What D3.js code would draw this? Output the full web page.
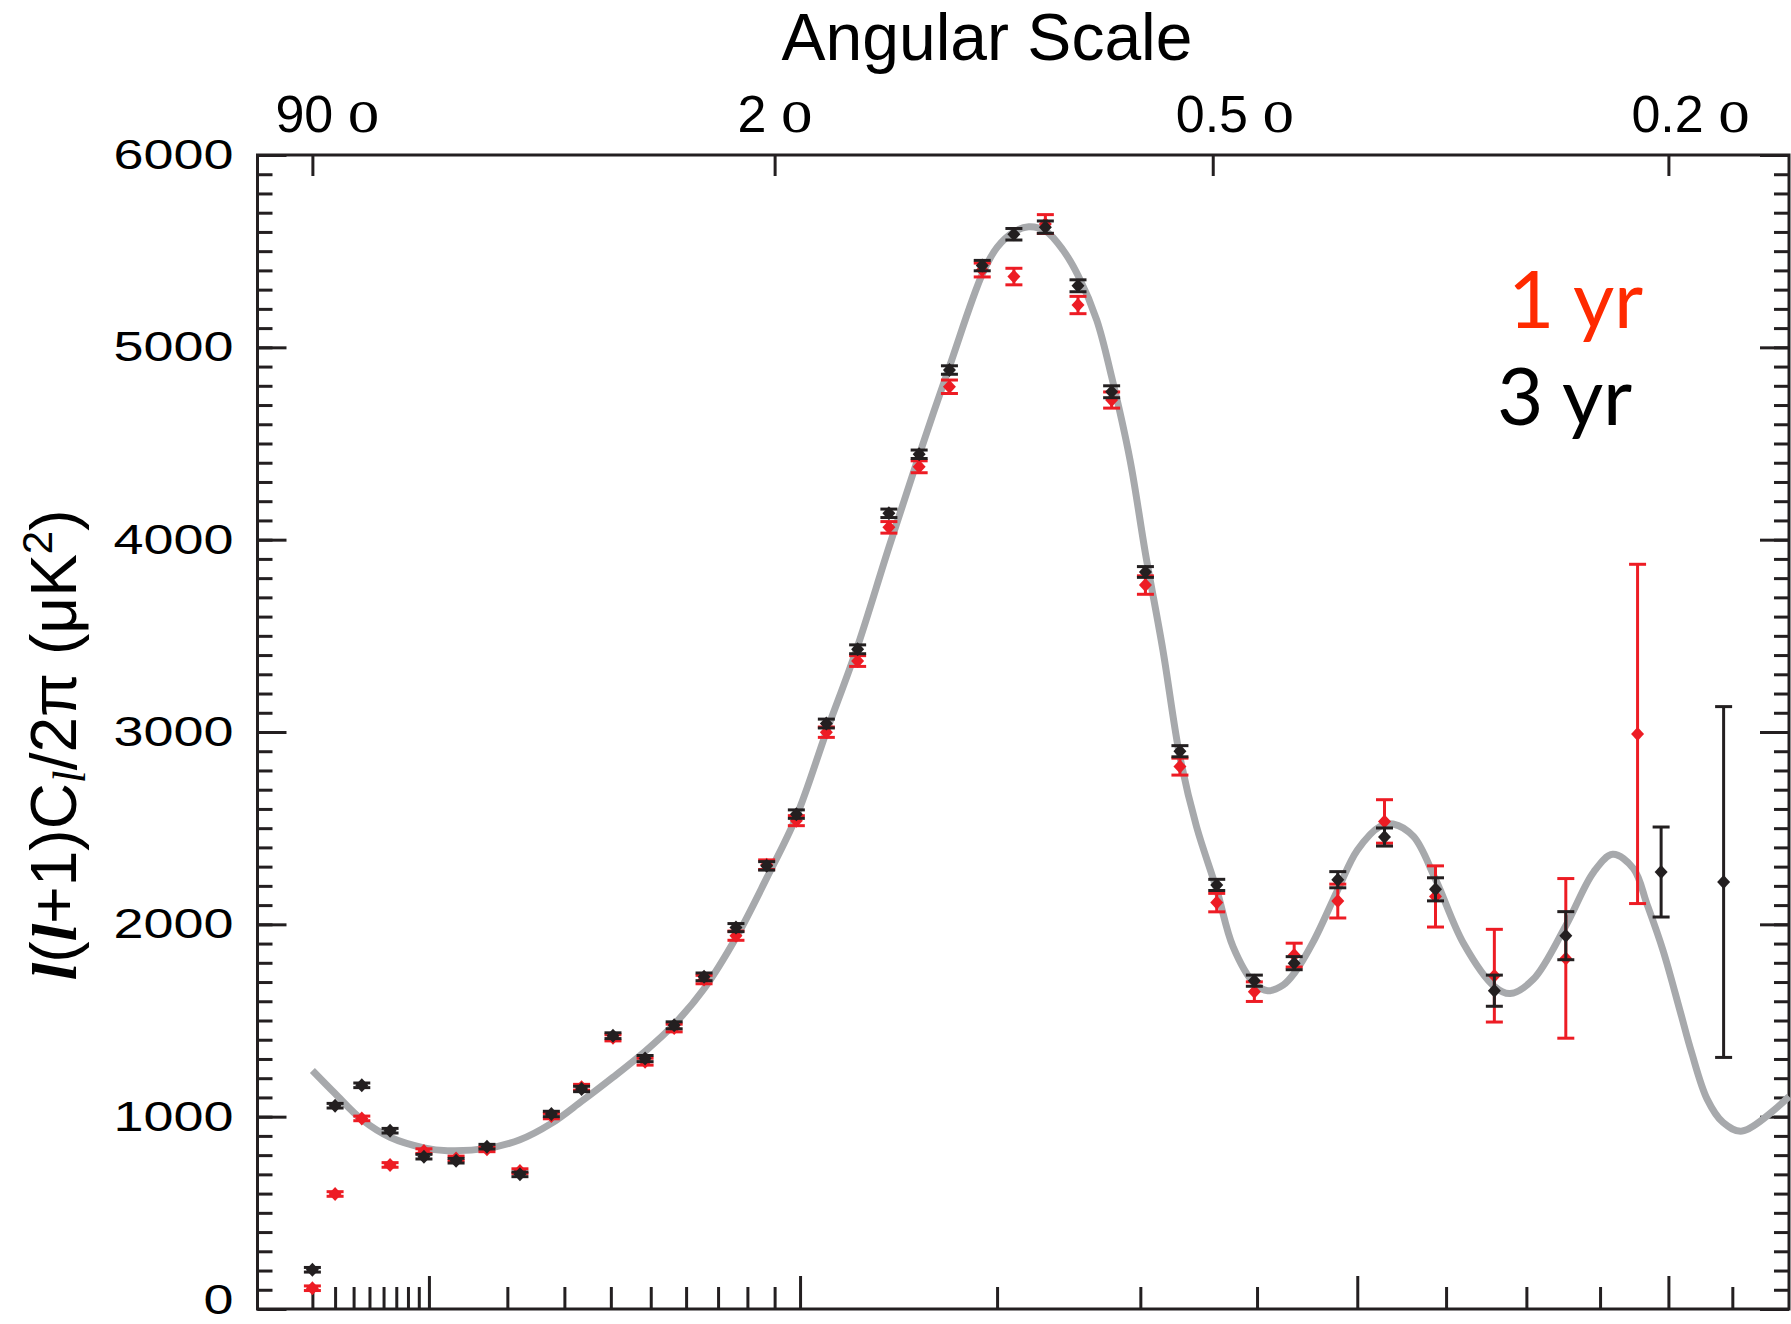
<!DOCTYPE html>
<html>
<head>
<meta charset="utf-8">
<script src="https://cdn.jsdelivr.net/npm/d3@7/dist/d3.min.js"></script>
<style>
  html, body { margin: 0; padding: 0; background: #fff; }
  svg { display: block; }
</style>
</head>
<body>
<svg id="chart" width="1791" height="1324"></svg>
<script>
// ---- WMAP TT power spectrum: binned 1-year and 3-year data with the LCDM model ----

// 3-year bins: multipole, l(l+1)Cl/2pi [uK^2], 1-sigma error
const yr3L   = [2, 3, 4.5, 6.5, 9.5, 13, 17, 22, 27.5, 33.5, 40.5, 48.5, 56.5, 65.5, 76, 87, 98.5, 111, 125, 140, 155.5, 172, 191, 210.5, 231, 253.5, 278, 304, 332, 363.5, 397.5, 435.5, 479.5, 529.5, 587.5, 659, 752.5, 889, 986];
const yr3Val = [204, 1057, 1163, 927, 792, 771, 844, 700, 1014, 1144, 1421, 1302, 1475, 1727, 1983, 2304, 2573, 3044, 3430, 4137, 4444, 4882, 5425, 5588, 5625, 5320, 4769, 3832, 2900, 2205, 1707, 1798, 2232, 2454, 2182, 1655, 1941, 2272, 2220];
const yr3Err = [12, 12, 12, 12, 12, 12, 12, 12, 14, 14, 15, 16, 18, 20, 21, 22, 22, 23, 23, 22, 22, 22, 27, 30, 32, 31, 31, 28, 29, 29, 29, 34, 42, 47, 60, 81, 125, 234, 912];

// 1-year bins
const yr1L   = [2, 3, 4.5, 6.5, 9.5, 13, 17, 22, 27.5, 33.5, 40.5, 48.5, 56.5, 65.5, 76, 87, 98.5, 111, 125, 140, 155.5, 172, 191, 210.5, 231, 253.5, 278, 304, 332, 363.5, 397.5, 435.5, 479.5, 529.5, 587.5, 659, 752.5, 854];
const yr1Val = [108, 598, 991, 749, 821, 783, 830, 717, 1003, 1153, 1410, 1286, 1461, 1713, 1941, 2310, 2539, 2999, 3369, 4064, 4379, 4795, 5402, 5368, 5641, 5220, 4726, 3764, 2820, 2113, 1650, 1840, 2121, 2535, 2145, 1733, 1823, 2990];
const yr1Err = [12, 12, 12, 12, 12, 12, 12, 12, 14, 15, 16, 18, 20, 22, 24, 25, 26, 27, 28, 30, 31, 35, 36, 43, 49, 45, 42, 48, 44, 48, 51, 62, 88, 113, 159, 241, 415, 882];

// best-fit model curve
const modelL   = [2, 3, 4.5, 6.5, 9.5, 12, 17, 22, 27.5, 33.5, 40.5, 48.5, 56.5, 65.5, 76, 87, 98.5, 111, 124.5, 140, 155.5, 172, 191, 200, 210.5, 220, 231, 243, 254, 267, 278, 292, 304, 318, 332, 346, 363.5, 378, 397.5, 410, 425, 435.5, 454.5, 479.5, 500, 525, 539, 562, 587.5, 621, 659, 679, 709, 752.5, 791, 818, 848, 868, 892, 918, 935, 960, 985, 1016, 1094];
const modelVal = [1240, 1120, 985, 893, 838, 823, 835, 880, 965, 1080, 1205, 1340, 1480, 1665, 1930, 2240, 2560, 3000, 3430, 3960, 4440, 4900, 5380, 5520, 5600, 5627, 5606, 5506, 5367, 5142, 4847, 4414, 3929, 3426, 2870, 2508, 2180, 1884, 1693, 1655, 1685, 1745, 1910, 2180, 2385, 2510, 2522, 2457, 2234, 1900, 1677, 1640, 1714, 1993, 2272, 2364, 2290, 2104, 1863, 1547, 1340, 1090, 970, 925, 1105];

// axis tick values
const yMajorTicks = d3.range(0, 6001, 1000);
const yMinorTicks = d3.range(0, 6001, 100);
const lTicks = [2, 3, 4, 5, 6, 7, 8, 9, 10, 20, 30, 40, 50, 60, 70, 80, 90, 100, 200, 300, 400, 500, 600, 700, 800, 900, 1000];
const lLongTicks = [10, 100, 500, 900];
const angleDeg = [90, 2, 0.5, 0.2];
const angleText = ["90", "2", "0.5", "0.2"];

const ink = "#231f20";
const red = "#ed1c24";

const svg = d3.select("#chart");
svg.append("rect").attr("width", 1791).attr("height", 1324).attr("fill", "#fff");

const plot = { left: 257.5, right: 1789, top: 155, bottom: 1309 };

const x = d3.scalePow().exponent(0.4).domain([0.5, 1094]).range([plot.left, plot.right]);
const y = d3.scaleLinear().domain([0, 6000]).range([plot.bottom, plot.top]);

// ---- axes ----
function styleAxis(g) {
  g.select(".domain").remove();
  g.selectAll(".tick line").attr("stroke", ink).attr("stroke-width", 3);
}

svg.append("g").attr("transform", `translate(${plot.left},0)`)
  .call(d3.axisLeft(y).tickValues(yMinorTicks).tickSize(-15).tickFormat(""))
  .call(styleAxis);
svg.append("g").attr("transform", `translate(${plot.right},0)`)
  .call(d3.axisRight(y).tickValues(yMinorTicks).tickSize(-15).tickFormat(""))
  .call(styleAxis);
svg.append("g").attr("transform", `translate(${plot.right},0)`)
  .call(d3.axisRight(y).tickValues(yMajorTicks).tickSize(-29).tickFormat(""))
  .call(styleAxis);

const yLeft = svg.append("g").attr("transform", `translate(${plot.left},0)`)
  .call(d3.axisLeft(y).tickValues(yMajorTicks).tickSize(-29).tickPadding(24).tickFormat(d3.format("d")))
  .call(styleAxis);
yLeft.selectAll(".tick text")
  .attr("fill", "#000")
  .attr("dy", d => d === 0 ? "0.1em" : "0.32em")
  .style("font-family", "'Liberation Sans', Arial, sans-serif")
  .style("font-size", "42.5px")
  .attr("textLength", d => String(d).length * 30)
  .attr("lengthAdjust", "spacingAndGlyphs");

svg.append("g").attr("transform", `translate(0,${plot.bottom})`)
  .call(d3.axisBottom(x).tickValues(lTicks.filter(t => !lLongTicks.includes(t))).tickSize(-22).tickFormat(""))
  .call(styleAxis);
svg.append("g").attr("transform", `translate(0,${plot.bottom})`)
  .call(d3.axisBottom(x).tickValues(lLongTicks).tickSize(-33).tickFormat(""))
  .call(styleAxis);

// top axis: angular scale theta = 180/l degrees
svg.append("g").attr("transform", `translate(0,${plot.top})`)
  .call(d3.axisTop(x).tickValues(angleDeg.map(a => 180 / a)).tickSize(-21).tickFormat(""))
  .call(styleAxis);

const angleLabels = svg.append("g");
angleDeg.forEach((a, i) => {
  const t = angleLabels.append("text")
    .attr("x", x(180 / a) - 37)
    .attr("y", 131.5)
    .attr("fill", "#000")
    .style("font-family", "'Liberation Sans', Arial, sans-serif")
    .style("font-size", "52px");
  t.append("tspan").text(angleText[i] + " ");
  t.append("tspan").style("font-family", "'Liberation Serif', 'Times New Roman', serif")
    .style("font-size", "63px").text("o");
});

svg.append("text")
  .attr("x", 987).attr("y", 60)
  .attr("text-anchor", "middle")
  .attr("fill", "#000")
  .style("font-family", "'Liberation Sans', Arial, sans-serif")
  .style("font-size", "66px")
  .text("Angular Scale");

// frame
svg.append("rect")
  .attr("x", plot.left).attr("y", plot.top)
  .attr("width", plot.right - plot.left).attr("height", plot.bottom - plot.top)
  .attr("fill", "none").attr("stroke", ink).attr("stroke-width", 3);

// y-axis title: l(l+1)Cl/2pi (uK^2)
const ell = "'Liberation Serif', 'Times New Roman', serif";
const yTitle = svg.append("text")
  .attr("transform", "translate(76,745) rotate(-90)")
  .attr("text-anchor", "middle")
  .attr("fill", "#000")
  .style("font-family", "'Liberation Sans', Arial, sans-serif")
  .style("font-size", "64px");
yTitle.append("tspan").style("font-family", ell).style("font-style", "italic").style("font-weight", "bold").text("l");
yTitle.append("tspan").text("(");
yTitle.append("tspan").style("font-family", ell).style("font-style", "italic").style("font-weight", "bold").text("l");
yTitle.append("tspan").text("+1)C");
yTitle.append("tspan").style("font-family", ell).style("font-style", "italic").style("font-size", "46px").attr("dy", 9).text("l");
yTitle.append("tspan").attr("dy", -9).text("/2\u03c0 (\u03bcK");
yTitle.append("tspan").style("font-size", "42px").attr("dy", -24).text("2");
yTitle.append("tspan").attr("dy", 24).text(")");

// ---- model curve ----
const model = modelL.map((l, i) => ({ l, v: modelVal[i] }));
svg.append("path")
  .datum(model)
  .attr("fill", "none")
  .attr("stroke", "#a7a9ac")
  .attr("stroke-width", 7)
  .attr("stroke-linejoin", "round")
  .attr("d", d3.line().x(d => x(d.l)).y(d => y(d.v)).curve(d3.curveCatmullRom.alpha(0.5)));

// ---- data points with error bars ----
function drawSeries(ls, vals, errs, color) {
  const data = ls.map((l, i) => ({ l, v: vals[i], e: errs[i] }));
  const g = svg.append("g");
  const pt = g.selectAll("g.pt").data(data).join("g").attr("class", "pt")
    .attr("transform", d => `translate(${x(d.l)},0)`);
  pt.append("line")
    .attr("y1", d => y(d.v - d.e)).attr("y2", d => y(d.v + d.e))
    .attr("stroke", color).attr("stroke-width", 3);
  pt.append("line")
    .attr("x1", -8.5).attr("x2", 8.5)
    .attr("y1", d => y(d.v + d.e)).attr("y2", d => y(d.v + d.e))
    .attr("stroke", color).attr("stroke-width", 3);
  pt.append("line")
    .attr("x1", -8.5).attr("x2", 8.5)
    .attr("y1", d => y(d.v - d.e)).attr("y2", d => y(d.v - d.e))
    .attr("stroke", color).attr("stroke-width", 3);
  pt.append("path")
    .attr("d", d => `M0,${y(d.v) - 7}L6.5,${y(d.v)}L0,${y(d.v) + 7}L-6.5,${y(d.v)}Z`)
    .attr("fill", color);
}
drawSeries(yr1L, yr1Val, yr1Err, red);
drawSeries(yr3L, yr3Val, yr3Err, ink);

// ---- legend ----
const legendFont = "Lato, 'Open Sans', sans-serif";
svg.append("text").attr("x", 1508).attr("y", 328)
  .attr("fill", "#ff2a00").style("font-family", legendFont).style("font-size", "80px")
  .text("1 yr");
svg.append("text").attr("x", 1497).attr("y", 425)
  .attr("fill", "#000").style("font-family", legendFont).style("font-size", "80px")
  .text("3 yr");
</script>
</body>
</html>
